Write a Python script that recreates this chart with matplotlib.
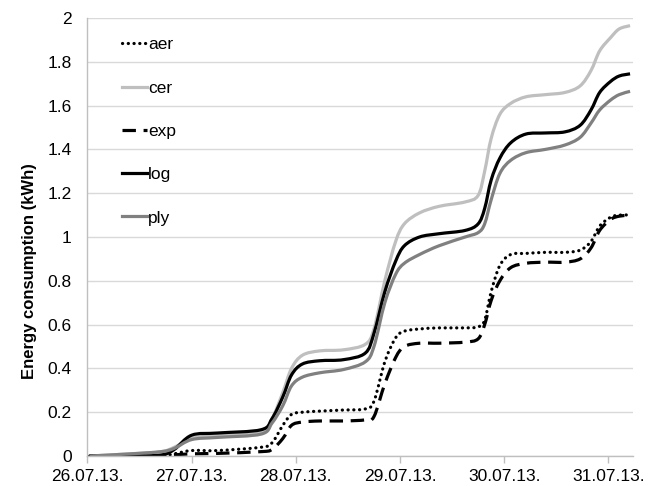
import matplotlib
matplotlib.use("Agg")
import matplotlib.pyplot as plt
import numpy as np
from matplotlib.path import Path
from matplotlib.patches import PathPatch
from matplotlib.lines import Line2D

plt.rcParams["font.family"] = ["Liberation Sans", "DejaVu Sans"]

# Hours elapsed since 26.07.13 00:00
hours = [0.5, 10, 17, 20, 24, 30, 40, 42.5, 45, 47, 49.5, 53.5, 59, 64, 66,
         68.5, 71, 73, 76.5, 81, 87, 90, 91.5, 93, 95, 97.5, 101, 105.5, 110,
         113.5, 116, 118, 120.5, 122.5, 125]

# Cumulative energy consumption (kWh) for each model
aer = [0.0, 0.0, 0.0, 0.01, 0.025, 0.025, 0.04, 0.06, 0.14, 0.19, 0.20, 0.205,
       0.21, 0.215, 0.25, 0.43, 0.54, 0.57, 0.58, 0.585, 0.585, 0.59, 0.62,
       0.75, 0.87, 0.92, 0.925, 0.93, 0.93, 0.94, 0.98, 1.05, 1.09, 1.10, 1.10]
cer = [0.0, 0.01, 0.02, 0.04, 0.08, 0.095, 0.11, 0.17, 0.29, 0.40, 0.46, 0.48,
       0.485, 0.51, 0.58, 0.80, 0.98, 1.06, 1.11, 1.14, 1.16, 1.19, 1.30,
       1.45, 1.56, 1.61, 1.64, 1.65, 1.66, 1.69, 1.76, 1.85, 1.91, 1.95, 1.965]
exp = [0.0, 0.0, 0.0, 0.005, 0.01, 0.012, 0.02, 0.03, 0.08, 0.14, 0.155, 0.16,
       0.16, 0.165, 0.18, 0.33, 0.45, 0.50, 0.515, 0.515, 0.52, 0.535, 0.60,
       0.71, 0.80, 0.86, 0.88, 0.885, 0.885, 0.90, 0.95, 1.03, 1.08, 1.095, 1.10]
log = [0.0, 0.0, 0.005, 0.03, 0.095, 0.105, 0.12, 0.17, 0.27, 0.37, 0.42,
       0.435, 0.44, 0.47, 0.56, 0.75, 0.89, 0.96, 1.00, 1.015, 1.03, 1.06,
       1.13, 1.26, 1.36, 1.43, 1.47, 1.475, 1.48, 1.51, 1.58, 1.66, 1.71,
       1.735, 1.745]
ply = [0.0, 0.01, 0.02, 0.035, 0.075, 0.085, 0.10, 0.15, 0.23, 0.32, 0.36,
       0.38, 0.395, 0.43, 0.50, 0.70, 0.83, 0.88, 0.92, 0.96, 1.00, 1.02, 1.06,
       1.17, 1.29, 1.35, 1.385, 1.40, 1.42, 1.455, 1.52, 1.58, 1.625, 1.65,
       1.665]

day_ticks = [0, 24, 48, 72, 96, 120]
day_labels = ["26.07.13.", "27.07.13.", "28.07.13.", "29.07.13.", "30.07.13.",
              "31.07.13."]
y_ticks = [0, 0.2, 0.4, 0.6, 0.8, 1, 1.2, 1.4, 1.6, 1.8, 2]
y_labels = ["0", "0.2", "0.4", "0.6", "0.8", "1", "1.2", "1.4", "1.6", "1.8", "2"]


def smooth_path(xs, ys):
    """Cubic Bezier path through the points (smoothed-line style)."""
    pts = np.column_stack([xs, ys]).astype(float)
    n = len(pts)
    verts = [pts[0]]
    codes = [Path.MOVETO]
    for i in range(n - 1):
        p0 = pts[max(i - 1, 0)]
        p1 = pts[i]
        p2 = pts[i + 1]
        p3 = pts[min(i + 2, n - 1)]
        c1 = p1 + (p2 - p0) / 6.0
        c2 = p2 - (p3 - p1) / 6.0
        verts += [c1, c2, p2]
        codes += [Path.CURVE4] * 3
    return Path(verts, codes)


fig = plt.figure(figsize=(6.5, 4.86), dpi=100)
ax = fig.add_axes([0.1346, 0.0617, 0.8394, 0.9013])

lw = 2.3
series = [
    ("aer", aer, dict(color="black", linestyle=(0, (0.05, 1.75)),
                      capstyle="round")),
    ("cer", cer, dict(color="#bfbfbf", linestyle="-", capstyle="butt")),
    ("exp", exp, dict(color="black", linestyle=(0, (4.2, 2.4)),
                      capstyle="butt")),
    ("log", log, dict(color="black", linestyle="-", capstyle="butt")),
    ("ply", ply, dict(color="#808080", linestyle="-", capstyle="butt")),
]

handles = []
for name, vals, st in series:
    patch = PathPatch(smooth_path(hours, vals), facecolor="none",
                      edgecolor=st["color"], lw=lw, linestyle=st["linestyle"],
                      capstyle=st["capstyle"], joinstyle="round")
    ax.add_patch(patch)
    handles.append(Line2D([], [], color=st["color"], lw=lw,
                          linestyle=st["linestyle"],
                          dash_capstyle=st["capstyle"], label=name))

ax.set_xlim(0, 125.7)
ax.set_ylim(0, 2)
ax.set_xticks(day_ticks)
ax.set_xticklabels(day_labels)
ax.set_yticks(y_ticks)
ax.set_yticklabels(y_labels)

ax.grid(axis="y", color="#d9d9d9", lw=1)
ax.set_axisbelow(True)
for side in ("top", "right"):
    ax.spines[side].set_visible(False)
for side in ("left", "bottom"):
    ax.spines[side].set_color("#bfbfbf")
    ax.spines[side].set_linewidth(1)

ax.tick_params(axis="y", length=0, pad=11.5, labelsize=12.5, colors="#000000")
ax.tick_params(axis="x", length=5, width=1, color="#bfbfbf", pad=4,
               labelsize=12.5)

ax.set_ylabel("Energy consumption (kWh)", fontsize=12, fontweight="bold")
ax.yaxis.set_label_coords(-0.0926, 0.422)

ax.legend(handles=handles, loc="upper left", bbox_to_anchor=(0.063, 0.956),
          frameon=False, fontsize=12.5, handlelength=1.45, handletextpad=0.05,
          labelspacing=1.62, borderpad=0, borderaxespad=0)

fig.savefig("out.png", dpi=100)
